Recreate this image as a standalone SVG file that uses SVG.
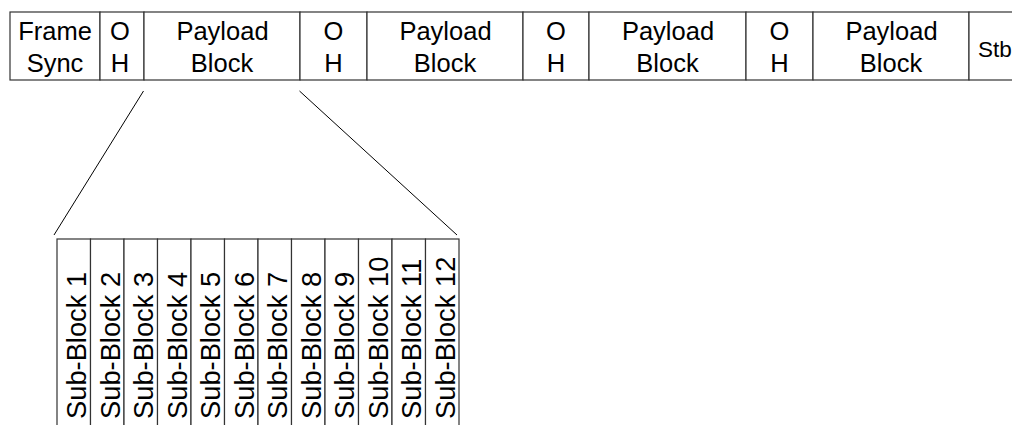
<svg xmlns="http://www.w3.org/2000/svg" width="1012" height="425" viewBox="0 0 1012 425">
<style>
.box{fill:#fff;stroke:#333;stroke-width:1.2}
.t{font-family:"Liberation Sans",Arial,sans-serif;font-size:25.5px;fill:#000;text-anchor:middle}
.s{font-family:"Liberation Sans",Arial,sans-serif;font-size:27.3px;fill:#000}
.ln{stroke:#000;stroke-width:1;fill:none}
</style>
<rect width="1012" height="425" fill="#fff"/>
<g id="frame-sync"><rect class="box" x="10" y="12" width="90" height="68"/><text class="t" x="55" y="40">Frame</text><text class="t" x="55" y="71.5">Sync</text></g>
<g id="oh1"><rect class="box" x="100" y="12" width="44" height="68"/><text class="t" x="120" y="40">O</text><text class="t" x="120" y="71.5">H</text></g>
<g id="payload1"><rect class="box" x="144" y="12" width="156" height="68"/><text class="t" x="222.5" y="40">Payload</text><text class="t" x="222" y="71.5">Block</text></g>
<g id="oh2"><rect class="box" x="300" y="12" width="67" height="68"/><text class="t" x="333.5" y="40">O</text><text class="t" x="333.5" y="71.5">H</text></g>
<g id="payload2"><rect class="box" x="367" y="12" width="156" height="68"/><text class="t" x="445.5" y="40">Payload</text><text class="t" x="445" y="71.5">Block</text></g>
<g id="oh3"><rect class="box" x="523" y="12" width="66" height="68"/><text class="t" x="556" y="40">O</text><text class="t" x="556" y="71.5">H</text></g>
<g id="payload3"><rect class="box" x="589" y="12" width="157" height="68"/><text class="t" x="668" y="40">Payload</text><text class="t" x="667.5" y="71.5">Block</text></g>
<g id="oh4"><rect class="box" x="746" y="12" width="67" height="68"/><text class="t" x="779.5" y="40">O</text><text class="t" x="779.5" y="71.5">H</text></g>
<g id="payload4"><rect class="box" x="813" y="12" width="156" height="68"/><text class="t" x="891.5" y="40">Payload</text><text class="t" x="891" y="71.5">Block</text></g>
<g id="stb"><rect class="box" x="969" y="12" width="80" height="68"/><text class="t" x="978" y="57" style="text-anchor:start;font-size:22.5px">Stb</text></g>
<g id="connectors">
<line class="ln" x1="143.5" y1="91" x2="54" y2="235"/>
<line class="ln" x1="299.5" y1="91" x2="457" y2="235"/>
</g>
<g id="sub-blocks">
<rect class="box" x="57" y="239" width="33.5" height="200"/>
<rect class="box" x="90.5" y="239" width="33.5" height="200"/>
<rect class="box" x="124" y="239" width="33.5" height="200"/>
<rect class="box" x="157.5" y="239" width="33.5" height="200"/>
<rect class="box" x="191" y="239" width="33.5" height="200"/>
<rect class="box" x="224.5" y="239" width="33.5" height="200"/>
<rect class="box" x="258" y="239" width="33.5" height="200"/>
<rect class="box" x="291.5" y="239" width="33.5" height="200"/>
<rect class="box" x="325" y="239" width="33.5" height="200"/>
<rect class="box" x="358.5" y="239" width="33.5" height="200"/>
<rect class="box" x="392" y="239" width="33.5" height="200"/>
<rect class="box" x="425.5" y="239" width="33.5" height="200"/>
<text class="s" transform="translate(86,419) rotate(-90)">Sub-Block 1</text>
<text class="s" transform="translate(119.5,419) rotate(-90)">Sub-Block 2</text>
<text class="s" transform="translate(153,419) rotate(-90)">Sub-Block 3</text>
<text class="s" transform="translate(186.5,419) rotate(-90)">Sub-Block 4</text>
<text class="s" transform="translate(220,419) rotate(-90)">Sub-Block 5</text>
<text class="s" transform="translate(253.5,419) rotate(-90)">Sub-Block 6</text>
<text class="s" transform="translate(287,419) rotate(-90)">Sub-Block 7</text>
<text class="s" transform="translate(320.5,419) rotate(-90)">Sub-Block 8</text>
<text class="s" transform="translate(354,419) rotate(-90)">Sub-Block 9</text>
<text class="s" transform="translate(387.5,419) rotate(-90)">Sub-Block 10</text>
<text class="s" transform="translate(421,419) rotate(-90)">Sub-Block 11</text>
<text class="s" transform="translate(454.5,419) rotate(-90)">Sub-Block 12</text>
</g>
</svg>
